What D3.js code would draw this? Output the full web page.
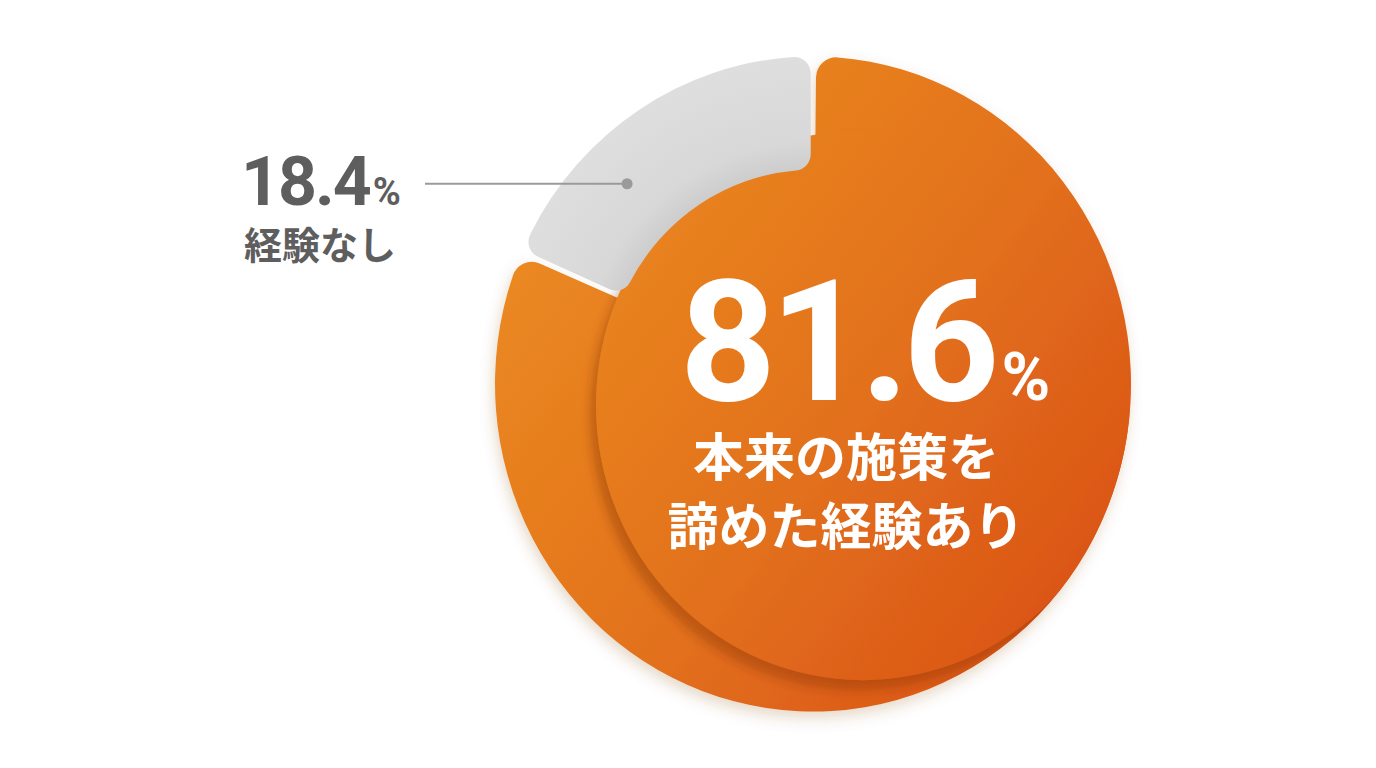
<!DOCTYPE html>
<html>
<head>
<meta charset="utf-8">
<title>donut</title>
<script src="https://cdn.jsdelivr.net/npm/d3@7"></script>
<style>
body { margin: 0; background: #fff; }
svg { display: block; }
</style>
</head>
<body>
<script>
// data
var categories = ["本来の施策を諦めた経験あり", "経験なし"];
var values = [81.6, 18.4];
var labelLines = [["本来の施策を", "諦めた経験あり"], ["経験なし"]];

var width = 1376, height = 768;
var cx = 813, cy = 384;
var R = 318;

var svg = d3.select("body").append("svg")
    .attr("width", width)
    .attr("height", height);

var defs = svg.append("defs");

var grad = defs.append("linearGradient")
    .attr("id", "orangeGrad")
    .attr("gradientUnits", "userSpaceOnUse")
    .attr("x1", -300).attr("y1", -220)
    .attr("x2", 300).attr("y2", 260);
grad.append("stop").attr("offset", 0).attr("stop-color", "#ec8d22");
grad.append("stop").attr("offset", 0.55).attr("stop-color", "#e2701c");
grad.append("stop").attr("offset", 1).attr("stop-color", "#d94f16");

var gray = defs.append("radialGradient")
    .attr("id", "grayGrad")
    .attr("gradientUnits", "userSpaceOnUse")
    .attr("cx", 0).attr("cy", 0).attr("r", R);
gray.append("stop").attr("offset", 0.64).attr("stop-color", "#cbcbcb");
gray.append("stop").attr("offset", 0.74).attr("stop-color", "#d8d8d8");
gray.append("stop").attr("offset", 1).attr("stop-color", "#dedede");

var outerShadow = defs.append("filter").attr("id", "outerShadow")
    .attr("x", "-20%").attr("y", "-20%").attr("width", "140%").attr("height", "140%");
outerShadow.append("feDropShadow")
    .attr("dx", -2).attr("dy", 6).attr("stdDeviation", 7)
    .attr("flood-color", "#8a4a10").attr("flood-opacity", 0.22);

var discShadow = defs.append("filter").attr("id", "discShadow")
    .attr("x", "-20%").attr("y", "-20%").attr("width", "140%").attr("height", "140%");
discShadow.append("feDropShadow")
    .attr("dx", -6).attr("dy", 10).attr("stdDeviation", 5)
    .attr("flood-color", "#7a2600").attr("flood-opacity", 0.35);

defs.append("clipPath").attr("id", "outerClip")
    .append("circle").attr("r", R);

var pie = d3.pie().sort(null).value(function(d) { return d; });
var arcs = pie(values);

var g = svg.append("g")
    .attr("transform", "translate(" + cx + "," + cy + ") scale(1,1.03)");

var orangeArc = d3.arc()
    .innerRadius(0)
    .outerRadius(R)
    .cornerRadius(20)
    .padAngle(0.02);

var grayArc = d3.arc()
    .innerRadius(208)
    .outerRadius(R)
    .cornerRadius(16)
    .padAngle(0.012);

// big orange slice
g.append("path")
    .attr("d", orangeArc(arcs[0]))
    .attr("fill", "url(#orangeGrad)")
    .attr("filter", "url(#outerShadow)");

// raised disc, its shadow kept inside the pie
g.append("g")
    .attr("clip-path", "url(#outerClip)")
  .append("circle")
    .attr("cx", 50)
    .attr("cy", 20.5)
    .attr("r", 267)
    .attr("fill", "url(#orangeGrad)")
    .attr("filter", "url(#discShadow)");

// gray slice
g.append("path")
    .attr("d", grayArc(arcs[1]))
    .attr("fill", "url(#grayGrad)");

// leader for the gray slice
var dotAngle = arcs[1].startAngle + 0.34 * (arcs[1].endAngle - arcs[1].startAngle);
var dotX = cx + 269 * Math.sin(dotAngle);
var dotY = cy - 269 * Math.cos(dotAngle) * 1.03;

svg.append("line")
    .attr("x1", 425).attr("y1", dotY)
    .attr("x2", dotX).attr("y2", dotY)
    .attr("stroke", "#9a9a9a")
    .attr("stroke-width", 2);
svg.append("circle")
    .attr("cx", dotX).attr("cy", dotY).attr("r", 5.5)
    .attr("fill", "#9a9a9a");

var fmt = d3.format(".1f");

// gray label
var t2 = svg.append("text")
    .attr("x", 241).attr("y", 205)
    .attr("fill", "#5e5e5e")
    .style("font-family", "Roboto, 'Noto Sans', sans-serif")
    .style("font-weight", 700);
t2.append("tspan").text(fmt(values[1]))
    .style("font-size", "68px").style("letter-spacing", "-2px");
t2.append("tspan").text("%")
    .attr("dx", 3)
    .style("font-size", "38px");

svg.append("text")
    .attr("x", 244).attr("y", 259)
    .attr("fill", "#5e5e5e")
    .style("font-family", "'Noto Sans CJK JP', sans-serif")
    .style("font-weight", 700)
    .style("font-size", "38px")
    .text(labelLines[1][0]);

// orange label
var t1 = svg.append("text")
    .attr("x", 865).attr("y", 400)
    .attr("text-anchor", "middle")
    .attr("fill", "#fff")
    .style("font-family", "Roboto, 'Noto Sans', sans-serif")
    .style("font-weight", 700);
t1.append("tspan").text(fmt(values[0]))
    .style("font-size", "168px").style("letter-spacing", "-6px");
t1.append("tspan").text("%")
    .attr("dx", 8)
    .style("font-size", "66px");

svg.selectAll("text.cat")
    .data(labelLines[0])
    .enter()
    .append("text")
    .attr("class", "cat")
    .attr("x", 846)
    .attr("y", function(d, i) { return 476 + i * 69; })
    .attr("text-anchor", "middle")
    .attr("fill", "#fff")
    .style("font-family", "'Noto Sans CJK JP', sans-serif")
    .style("font-weight", 700)
    .style("font-size", "51px")
    .text(function(d) { return d; });
</script>
</body>
</html>
